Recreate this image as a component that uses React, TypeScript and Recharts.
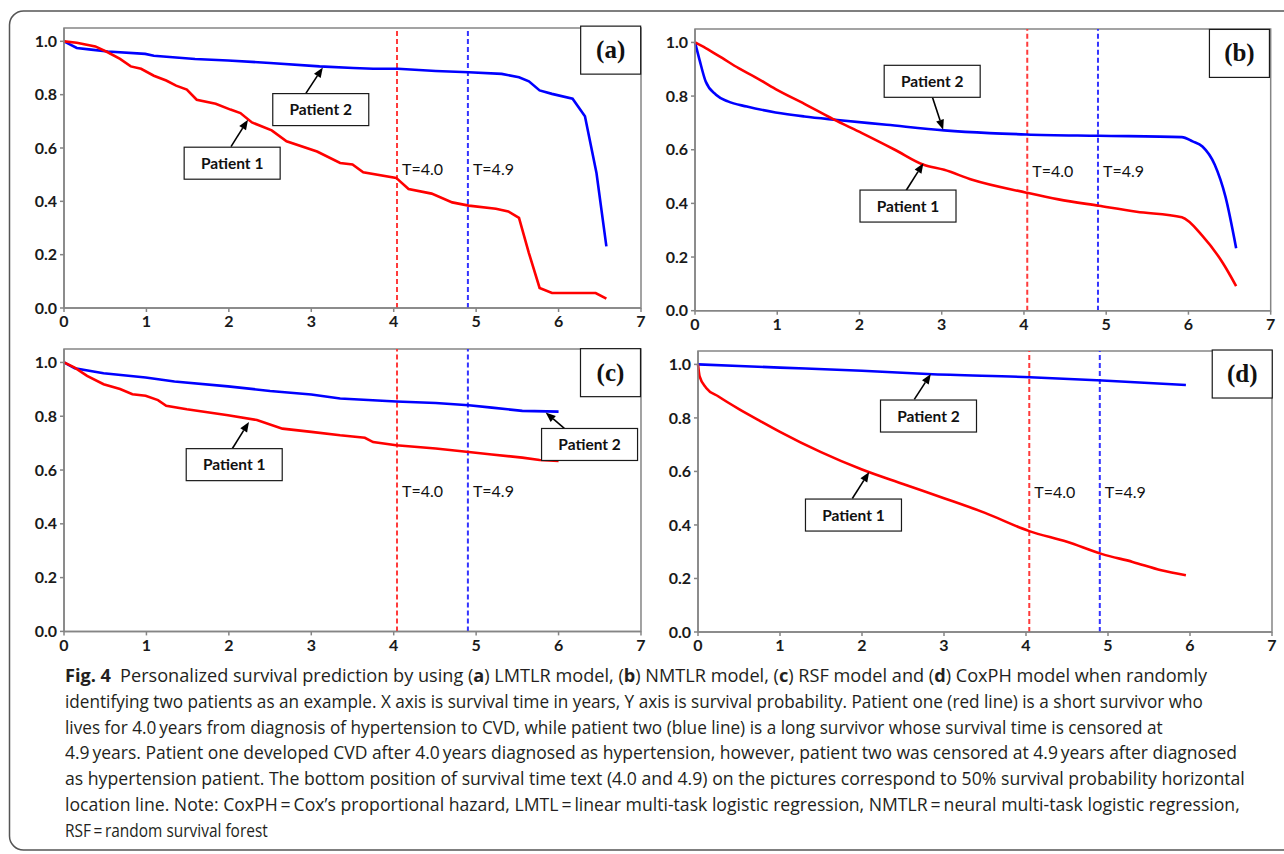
import { useLayoutEffect, useRef, useState } from 'react'
import type { ReactNode } from 'react'
import {
  LineChart,
  Line,
  XAxis,
  YAxis,
  ReferenceLine,
  ReferenceDot,
  ReferenceArea,
} from 'recharts'

// (a) LMTLR
const aRedTime = [0, 0.155, 0.38, 0.53, 0.68, 0.81, 0.935, 1.09, 1.24, 1.36, 1.49, 1.61, 1.84, 2.02, 2.14, 2.28, 2.52, 2.7, 3.07, 3.35, 3.5, 3.63, 4.03, 4.18, 4.46, 4.71, 4.91, 5.24, 5.39, 5.52, 5.64, 5.77, 5.92, 6.45, 6.58]
const aRedSurv = [1.0, 0.995, 0.981, 0.959, 0.934, 0.906, 0.897, 0.871, 0.853, 0.834, 0.819, 0.781, 0.766, 0.744, 0.731, 0.696, 0.666, 0.625, 0.587, 0.544, 0.538, 0.509, 0.488, 0.446, 0.429, 0.396, 0.384, 0.372, 0.362, 0.338, 0.206, 0.075, 0.056, 0.056, 0.035]
const aBlueTime = [0, 0.155, 0.33, 0.53, 0.985, 1.09, 1.59, 1.99, 2.5, 3.1, 3.51, 3.75, 4.05, 4.51, 4.91, 5.31, 5.52, 5.64, 5.77, 5.92, 6.17, 6.32, 6.46, 6.58]
const aBlueSurv = [1.0, 0.975, 0.969, 0.962, 0.953, 0.946, 0.934, 0.928, 0.919, 0.906, 0.9, 0.897, 0.897, 0.889, 0.884, 0.878, 0.865, 0.85, 0.816, 0.803, 0.785, 0.719, 0.506, 0.231]

// (b) NMTLR
const bRedTime = [0, 0.13, 0.33, 0.53, 0.73, 0.98, 1.33, 1.68, 2.03, 2.43, 2.78, 3.03, 3.37, 4.03, 4.42, 4.91, 5.37, 5.92, 6.17, 6.42, 6.58]
const bRedSurv = [1.0, 0.979, 0.942, 0.904, 0.871, 0.826, 0.771, 0.714, 0.662, 0.6, 0.544, 0.525, 0.488, 0.44, 0.415, 0.391, 0.369, 0.348, 0.279, 0.177, 0.092]
const bBlueTime = [0, 0.055, 0.13, 0.255, 0.4, 0.63, 0.98, 1.33, 1.73, 2.33, 3.03, 3.58, 4.03, 4.91, 5.92, 6.05, 6.17, 6.32, 6.45, 6.58]
const bBlueSurv = [1.0, 0.935, 0.854, 0.805, 0.78, 0.761, 0.739, 0.724, 0.711, 0.693, 0.672, 0.662, 0.657, 0.652, 0.647, 0.631, 0.612, 0.544, 0.425, 0.233]

// (c) RSF
const cRedTime = [0, 0.13, 0.28, 0.48, 0.68, 0.83, 0.99, 1.14, 1.24, 1.49, 1.99, 2.34, 2.65, 3.0, 3.35, 3.65, 3.75, 4.03, 4.51, 4.91, 5.19, 5.56, 5.77, 6.0]
const cRedSurv = [1.0, 0.981, 0.95, 0.919, 0.901, 0.882, 0.876, 0.86, 0.839, 0.826, 0.804, 0.786, 0.754, 0.742, 0.729, 0.72, 0.704, 0.692, 0.68, 0.667, 0.658, 0.646, 0.637, 0.634]
const cBlueTime = [0, 0.13, 0.48, 0.99, 1.34, 1.99, 2.5, 3.0, 3.35, 4.03, 4.51, 4.91, 5.19, 5.56, 6.0]
const cBlueSurv = [1.0, 0.978, 0.96, 0.944, 0.929, 0.911, 0.894, 0.881, 0.866, 0.855, 0.849, 0.841, 0.832, 0.82, 0.817]

// (d) CoxPH
const dRedTime = [0, 0.02, 0.1, 0.25, 0.5, 0.75, 1.0, 1.5, 2.0, 2.5, 3.0, 3.5, 4.04, 4.5, 4.93, 5.3, 5.65, 5.95]
const dRedSurv = [1.0, 0.955, 0.912, 0.88, 0.833, 0.79, 0.748, 0.672, 0.607, 0.553, 0.5, 0.445, 0.377, 0.337, 0.291, 0.262, 0.231, 0.212]
const dBlueTime = [0, 1, 2, 2.8, 4.05, 4.93, 5.95]
const dBlueSurv = [1.0, 0.988, 0.976, 0.964, 0.952, 0.94, 0.923]

const xTicks = [0, 1, 2, 3, 4, 5, 6, 7]
const yTicks = [0, 0.2, 0.4, 0.6, 0.8, 1.0]
const eventTime = 4.04
const censorTime = 4.9

const captionLines = [
  'identifying two patients as an example. X axis is survival time in years, Y axis is survival probability. Patient one (red line) is a short survivor who',
  'lives for 4.0\u2009years from diagnosis of hypertension to CVD, while patient two (blue line) is a long survivor whose survival time is censored at',
  '4.9\u2009years. Patient one developed CVD after 4.0\u2009years diagnosed as hypertension, however, patient two was censored at 4.9\u2009years after diagnosed',
  'as hypertension patient. The bottom position of survival time text (4.0 and 4.9) on the pictures correspond to 50% survival probability horizontal',
  'location line. Note: CoxPH\u2009=\u2009Cox\u2019s proportional hazard, LMTL\u2009=\u2009linear multi-task logistic regression, NMTLR\u2009=\u2009neural multi-task logistic regression,',
  'RSF\u2009=\u2009random survival forest',
]
const captionWidths = [1142, 1138, 1098, 1172, 1180, 1175, 203]

type Pt = { t: number; s: number }
const zip = (t: number[], s: number[]): Pt[] => t.map((v, i) => ({ t: v, s: s[i] }))

const FONT = 'Lato, "Open Sans", sans-serif'

function Arrow(p: any) {
  const { x1, y1, x2, y2 } = p
  const a = Math.atan2(y2 - y1, x2 - x1)
  const L = 10
  const W = 4
  const bx = x2 - L * Math.cos(a)
  const by = y2 - L * Math.sin(a)
  const nx = -Math.sin(a) * W
  const ny = Math.cos(a) * W
  return (
    <g>
      <line x1={x1} y1={y1} x2={bx} y2={by} stroke='#000' strokeWidth={1.6} />
      <polygon points={`${x2},${y2} ${bx + nx},${by + ny} ${bx - nx},${by - ny}`} fill='#000' />
    </g>
  )
}

function NoteBox({ cx, cy, text }: { cx: number; cy: number; text: string }) {
  return (
    <g>
      <rect x={cx - 48} y={cy - 16} width={96} height={32} fill='#fff' stroke='#1a1a1a' strokeWidth={1.2} />
      <text x={cx} y={cy + 5.5} textAnchor='middle' fontSize={15.5} fontWeight={700} fontFamily={FONT} fill='#111'>
        {text}
      </text>
    </g>
  )
}

function TagBox({ cx, cy, tag }: { cx: number; cy: number; tag: string }) {
  return (
    <g>
      <rect x={cx - 30} y={cy - 24} width={60} height={48} fill='#fff' stroke='#1a1a1a' strokeWidth={1.2} />
      <text x={cx} y={cy + 8} textAnchor='middle' fontSize={25} fontWeight={700} fontFamily='"Liberation Serif", serif' fill='#111'>
        {tag}
      </text>
    </g>
  )
}

interface Notes {
  p1: [number, number]
  p1Arrow: [number, number, number, number]
  p2: [number, number]
  p2Arrow: [number, number, number, number]
  tag: [number, number]
}

interface PanelProps {
  x: number
  y: number
  w: number
  h: number
  red: Pt[]
  blue: Pt[]
  smooth: boolean
  tag: string
  notes: Notes
}

function Panel({ x, y, w, h, red, blue, smooth, tag, notes }: PanelProps) {
  const axisStroke = '#858585'
  const tick = { fill: '#1a1a1a', fontSize: 16, fontWeight: 700, fontFamily: FONT }
  const kind = smooth ? 'monotone' : 'linear'
  return (
    <div style={{ position: 'absolute', left: x - 40, top: y - 12 }}>
      <LineChart width={w + 52} height={h + 42} margin={{ top: 12, right: 12, bottom: 0, left: 0 }}>
        <XAxis
          type='number'
          dataKey='t'
          domain={[0, 7]}
          ticks={xTicks}
          height={30}
          tickSize={4}
          tickMargin={4}
          tick={tick}
          stroke={axisStroke}
          axisLine={{ stroke: axisStroke, strokeWidth: 1.5 }}
          tickLine={{ stroke: axisStroke, strokeWidth: 1.5 }}
        />
        <YAxis
          type='number'
          dataKey='s'
          domain={[0, 1.05]}
          ticks={yTicks}
          width={40}
          tickSize={4}
          tickMargin={3}
          tick={tick}
          tickFormatter={(v: number) => v.toFixed(1)}
          axisLine={{ stroke: axisStroke, strokeWidth: 1.5 }}
          tickLine={{ stroke: axisStroke, strokeWidth: 1.5 }}
        />
        <ReferenceArea x1={0} x2={7} y1={0} y2={1.05} fill='none' stroke={axisStroke} strokeWidth={1.5} />
        <ReferenceLine x={eventTime} stroke='#ff3b3b' strokeWidth={2} strokeDasharray='5 3' />
        <ReferenceLine x={censorTime} stroke='#3333ff' strokeWidth={2} strokeDasharray='5 3' />
        <Line data={blue} dataKey='s' type={kind} stroke='#0000ff' strokeWidth={2.6} dot={false} isAnimationActive={false} />
        <Line data={red} dataKey='s' type={kind} stroke='#ff0000' strokeWidth={2.6} dot={false} isAnimationActive={false} />
        <ReferenceDot
          x={eventTime}
          y={0.5}
          r={0}
          shape={(p: any) => (
            <text x={p.cx + 5} y={p.cy} fontSize={16} fontFamily={FONT} fill='#111'>T=4.0</text>
          )}
        />
        <ReferenceDot
          x={censorTime}
          y={0.5}
          r={0}
          shape={(p: any) => (
            <text x={p.cx + 5} y={p.cy} fontSize={16} fontFamily={FONT} fill='#111'>T=4.9</text>
          )}
        />
        <ReferenceLine
          segment={[{ x: notes.p1Arrow[0], y: notes.p1Arrow[1] }, { x: notes.p1Arrow[2], y: notes.p1Arrow[3] }]}
          shape={(p: any) => <Arrow {...p} />}
        />
        <ReferenceLine
          segment={[{ x: notes.p2Arrow[0], y: notes.p2Arrow[1] }, { x: notes.p2Arrow[2], y: notes.p2Arrow[3] }]}
          shape={(p: any) => <Arrow {...p} />}
        />
        <ReferenceDot x={notes.p1[0]} y={notes.p1[1]} r={0} shape={(p: any) => <NoteBox cx={p.cx} cy={p.cy} text='Patient 1' />} />
        <ReferenceDot x={notes.p2[0]} y={notes.p2[1]} r={0} shape={(p: any) => <NoteBox cx={p.cx} cy={p.cy} text='Patient 2' />} />
        <ReferenceDot x={notes.tag[0]} y={notes.tag[1]} r={0} shape={(p: any) => <TagBox cx={p.cx} cy={p.cy} tag={tag} />} />
      </LineChart>
    </div>
  )
}

const aNotes: Notes = {
  p1: [2.04, 0.543],
  p1Arrow: [2.026, 0.605, 2.232, 0.706],
  p2: [3.115, 0.744],
  p2Arrow: [2.936, 0.806, 3.14, 0.902],
  tag: [6.632, 0.967],
}
const bNotes: Notes = {
  p1: [2.59, 0.39],
  p1Arrow: [2.567, 0.448, 2.777, 0.55],
  p2: [2.884, 0.855],
  p2Arrow: [2.887, 0.796, 3.017, 0.674],
  tag: [6.62, 0.959],
}
const cNotes: Notes = {
  p1: [2.065, 0.62],
  p1Arrow: [2.043, 0.68, 2.244, 0.779],
  p2: [6.376, 0.695],
  p2Arrow: [6.07, 0.755, 5.843, 0.814],
  tag: [6.63, 0.962],
}
const dNotes: Notes = {
  p1: [1.896, 0.437],
  p1Arrow: [1.882, 0.499, 2.088, 0.598],
  p2: [2.811, 0.807],
  p2Arrow: [2.638, 0.869, 2.839, 0.964],
  tag: [6.637, 0.964],
}

// one caption line, squeezed horizontally to the width it has in the figure
function CaptionLine({ top, width, children }: { top: number; width: number; children: ReactNode }) {
  const ref = useRef<HTMLDivElement>(null)
  const [k, setK] = useState(0.85)
  useLayoutEffect(() => {
    if (ref.current) setK(width / ref.current.offsetWidth)
  }, [width])
  return (
    <div
      ref={ref}
      style={{
        position: 'absolute',
        left: 65,
        top,
        display: 'inline-block',
        whiteSpace: 'nowrap',
        fontFamily: '"Open Sans", "Noto Sans", sans-serif',
        fontSize: 18.5,
        lineHeight: '22px',
        color: '#231f20',
        transform: `scaleX(${k})`,
        transformOrigin: '0 0',
      }}
    >
      {children}
    </div>
  )
}

export default function App() {
  const top0 = 664
  const step = 25.8
  return (
    <div style={{ position: 'absolute', left: 0, top: 0, width: 1284, height: 854, background: '#fff', overflow: 'hidden' }}>
      <svg width={1284} height={854} style={{ position: 'absolute', left: 0, top: 0 }}>
        <rect x={9.5} y={11} width={1300} height={839} rx={14} fill='none' stroke='#555' strokeWidth={1.5} />
      </svg>
      <CaptionLine top={top0} width={captionWidths[0]}>
        <b>Fig. 4</b>
        {'\u2002Personalized survival prediction by using ('}
        <b>a</b>
        {') LMTLR model, ('}
        <b>b</b>
        {') NMTLR model, ('}
        <b>c</b>
        {') RSF model and ('}
        <b>d</b>
        {') CoxPH model when randomly'}
      </CaptionLine>
      {captionLines.map((line, i) => (
        <CaptionLine key={i} top={top0 + step * (i + 1)} width={captionWidths[i + 1]}>
          {line}
        </CaptionLine>
      ))}
      <Panel x={64} y={28.3} w={577} h={280} red={zip(aRedTime, aRedSurv)} blue={zip(aBlueTime, aBlueSurv)} smooth={false} tag='(a)' notes={aNotes} />
      <Panel x={695} y={29} w={575.7} h={281.7} red={zip(bRedTime, bRedSurv)} blue={zip(bBlueTime, bBlueSurv)} smooth={true} tag='(b)' notes={bNotes} />
      <Panel x={64} y={349.3} w={577} h={282.4} red={zip(cRedTime, cRedSurv)} blue={zip(cBlueTime, cBlueSurv)} smooth={false} tag='(c)' notes={cNotes} />
      <Panel x={698} y={350.7} w={574} h={281} red={zip(dRedTime, dRedSurv)} blue={zip(dBlueTime, dBlueSurv)} smooth={true} tag='(d)' notes={dNotes} />
    </div>
  )
}
